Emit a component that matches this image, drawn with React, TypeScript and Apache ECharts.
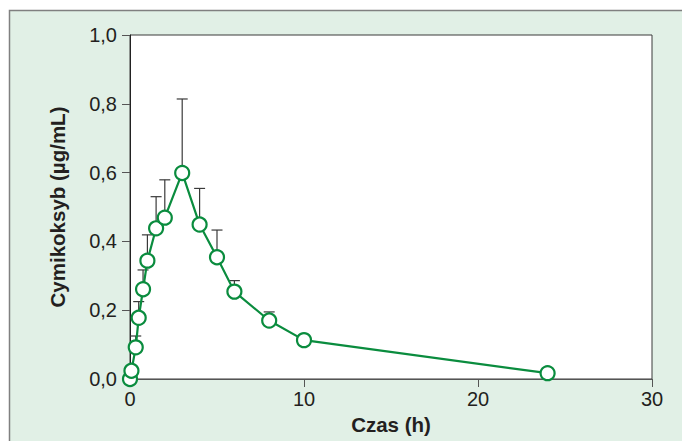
import React, { useEffect, useRef } from "react";
import * as echarts from "echarts";

const times = [0, 0.083, 0.33, 0.5, 0.75, 1, 1.5, 2, 3, 4, 5, 6, 8, 10, 24];
const means = [0.0, 0.024, 0.092, 0.178, 0.261, 0.344, 0.438, 0.469, 0.599, 0.449, 0.354, 0.254, 0.17, 0.113, 0.017];
const upper = [null, null, 0.125, 0.225, 0.317, 0.419, 0.53, 0.579, 0.814, 0.554, 0.433, 0.286, 0.195, null, null];
const xTicks = [0, 10, 20, 30];
const yTicks = [0, 0.2, 0.4, 0.6, 0.8, 1.0];

const GREEN = "#0a8c3e";
const TEXT = "#231f20";

export default function App() {
  const ref = useRef<HTMLDivElement>(null);
  useEffect(() => {
    if (!ref.current) return;
    const chart = echarts.init(ref.current, null, { renderer: "svg" });
    const lineData = times.map((t, i) => [t, means[i]]);
    const errData = times
      .map((t, i) => (upper[i] == null ? null : [t, means[i], upper[i]]))
      .filter((d) => d !== null);
    chart.setOption({
      animation: false,
      backgroundColor: "#ffffff",
      graphic: [
        {
          type: "rect",
          z: -10,
          silent: true,
          shape: { x: 9.5, y: 10.5, width: 700, height: 460 },
          style: { fill: "#e1f0e6", stroke: "#808080", lineWidth: 1.5 },
        },
      ],
      grid: {
        left: 130,
        top: 35,
        right: 30,
        bottom: 62,
        show: true,
        backgroundColor: "#ffffff",
        borderColor: "#3a3a3a",
        borderWidth: 1,
      },
      xAxis: {
        type: "value",
        min: xTicks[0],
        max: xTicks[xTicks.length - 1],
        interval: 10,
        name: "Czas (h)",
        nameLocation: "middle",
        nameGap: 34,
        nameTextStyle: { fontFamily: "Liberation Sans", fontWeight: "bold", fontSize: 20.5, color: TEXT },
        axisLine: { lineStyle: { color: "#555", width: 1 } },
        axisTick: { show: true, inside: false, length: 8, lineStyle: { color: "#555" } },
        axisLabel: { margin: 10, fontFamily: "Liberation Sans", fontSize: 20, color: TEXT },
        splitLine: { show: false },
      },
      yAxis: {
        type: "value",
        min: yTicks[0],
        max: yTicks[yTicks.length - 1],
        interval: 0.2,
        name: "Cymikoksyb (µg/mL)",
        nameLocation: "middle",
        nameRotate: 90,
        nameGap: 62,
        nameTextStyle: { fontFamily: "Liberation Sans", fontWeight: "bold", fontSize: 20.5, color: TEXT },
        axisLine: { show: true, lineStyle: { color: "#222", width: 1 } },
        axisTick: { show: true, inside: false, length: 8, lineStyle: { color: "#555" } },
        axisLabel: {
          margin: 13,
          fontFamily: "Liberation Sans",
          fontSize: 20,
          color: TEXT,
          formatter: (v: number) => v.toFixed(1).replace(".", ","),
        },
        splitLine: { show: false },
      },
      series: [
        {
          type: "custom",
          z: 1,
          data: errData,
          renderItem: (params: any, api: any) => {
            const x = api.value(0);
            const lo = api.coord([x, api.value(1)]);
            const hi = api.coord([x, api.value(2)]);
            const hw = 5.5;
            return {
              type: "group",
              children: [
                {
                  type: "line",
                  shape: { x1: lo[0], y1: lo[1], x2: hi[0], y2: hi[1] },
                  style: { stroke: "#3a3a3a", lineWidth: 1.2 },
                },
                {
                  type: "line",
                  shape: { x1: hi[0] - hw, y1: hi[1], x2: hi[0] + hw, y2: hi[1] },
                  style: { stroke: "#3a3a3a", lineWidth: 1.2 },
                },
              ],
            };
          },
        },
        {
          type: "line",
          z: 5,
          data: lineData,
          symbol: "circle",
          symbolSize: 14,
          showAllSymbol: true,
          lineStyle: { color: GREEN, width: 2.2 },
          itemStyle: { color: "#ffffff", borderColor: GREEN, borderWidth: 2.2 },
        },
      ],
    });
    return () => chart.dispose();
  }, []);
  return (
    <div
      ref={ref}
      style={{ position: "fixed", left: 0, top: 0, width: 682, height: 441 }}
    />
  );
}
